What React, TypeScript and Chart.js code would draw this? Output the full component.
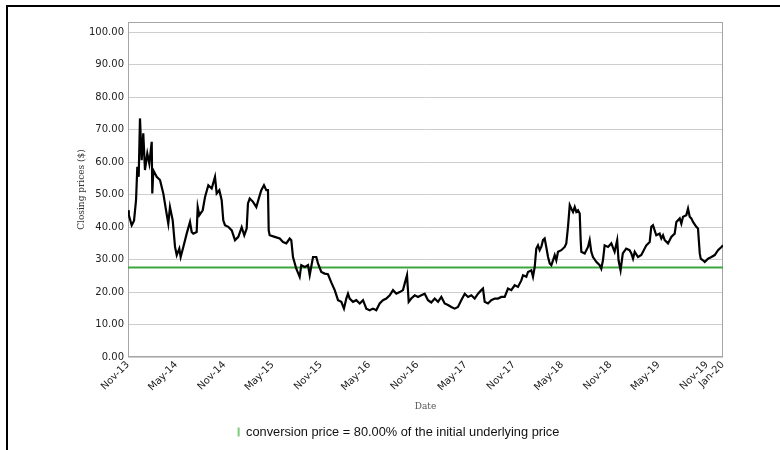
import React, { useEffect, useRef } from 'react';
import { Chart, registerables } from 'chart.js';

Chart.register(...registerables);

// x values: months elapsed since 1 Nov 2013
const closeMonths = [
  0.0, 0.1, 0.46, 0.75, 1.0, 1.16, 1.33, 1.49, 1.7, 1.9, 2.11, 2.4, 2.65, 2.95, 3.02, 3.15, 3.57, 3.98, 4.39, 4.73,
  5.01, 5.22, 5.56, 5.85, 6.06, 6.38, 6.55, 6.88, 7.3, 7.71, 7.92, 8.12, 8.54, 8.67, 8.87, 9.29, 9.58, 9.99, 10.41, 10.82,
  11.03, 11.36, 11.65, 11.85, 12.06, 12.47, 12.9, 13.31, 13.72, 14.14, 14.46, 14.76, 14.92, 15.14, 15.55, 15.96, 16.38, 16.58, 16.91, 17.2,
  17.41, 17.5, 17.62, 18.25, 18.87, 19.28, 19.69, 20.11, 20.31, 20.52, 20.93, 21.35, 21.55, 21.98, 22.39, 22.6, 23.01, 23.42, 23.63, 24.04,
  24.46, 24.87, 25.28, 25.71, 26.12, 26.53, 26.86, 27.15, 27.36, 27.57, 27.98, 28.39, 28.82, 29.23, 29.64, 30.06, 30.47, 30.88, 31.3, 31.71,
  32.13, 32.55, 32.96, 33.37, 33.79, 34.2, 34.41, 34.7, 34.91, 35.23, 35.66, 36.07, 36.48, 36.9, 37.31, 37.72, 38.14, 38.56, 38.97, 39.39,
  39.8, 40.21, 40.63, 41.04, 41.45, 41.88, 42.29, 42.7, 43.12, 43.53, 43.94, 44.15, 44.36, 44.77, 45.18, 45.61, 46.02, 46.43, 46.85, 47.26,
  47.67, 48.09, 48.5, 48.92, 49.13, 49.54, 49.75, 50.16, 50.37, 50.58, 50.78, 50.99, 51.2, 51.4, 51.61, 51.82, 52.02, 52.24, 52.45, 52.65,
  52.86, 53.07, 53.27, 53.48, 53.89, 54.31, 54.51, 54.72, 54.94, 55.14, 55.35, 55.56, 55.76, 55.97, 56.18, 56.3, 56.38, 56.8, 57.21, 57.42,
  57.62, 57.83, 58.24, 58.66, 58.86, 59.07, 59.28, 59.7, 60.11, 60.52, 60.84, 61.01, 61.26, 61.54, 61.96, 62.38, 62.6, 62.81, 63.02, 63.43,
  63.84, 64.05, 64.46, 64.88, 65.08, 65.29, 65.5, 65.7, 66.12, 66.33, 66.54, 66.75, 67.16, 67.57, 67.99, 68.2, 68.62, 68.82, 69.03, 69.44,
  69.65, 69.86, 70.06, 70.27, 70.68, 70.89, 71.11, 71.23, 71.51, 71.73, 72.14, 72.56, 72.97, 73.38, 73.8, 74.0,
];

const closePrices = [
  45.2, 43.7, 40.6, 42.0, 48.3, 58.6, 55.5, 73.5, 60.6, 68.9, 57.6, 62.7, 59.6, 66.3, 50.4, 57.5, 55.5, 54.5, 50.4, 45.2,
  41.1, 46.2, 42.1, 33.9, 31.4, 33.4, 30.8, 33.9, 38.0, 41.6, 38.5, 38.0, 38.5, 46.2, 43.7, 45.2, 49.3, 52.9, 51.9, 55.5,
  50.4, 51.4, 48.3, 42.1, 40.6, 40.1, 39.0, 36.0, 37.0, 40.0, 37.5, 39.6, 47.3, 48.8, 47.8, 46.2, 49.8, 51.4, 52.9, 51.4,
  51.4, 39.0, 37.5, 37.0, 36.5, 35.4, 35.0, 36.5, 36.0, 30.8, 27.2, 24.7, 28.3, 27.7, 28.3, 25.2, 30.8, 30.8, 28.8, 26.2,
  25.7, 25.5, 23.0, 20.6, 17.5, 17.0, 14.9, 18.0, 19.5, 18.0, 17.0, 17.5, 16.5, 17.5, 14.9, 14.4, 14.9, 14.4, 16.5, 17.5,
  18.0, 19.0, 20.6, 19.5, 20.0, 20.6, 22.6, 25.2, 17.0, 18.0, 19.0, 18.5, 19.0, 19.5, 17.5, 16.8, 18.0, 17.0, 18.5, 16.5,
  16.0, 15.4, 14.9, 15.4, 17.5, 19.5, 18.5, 19.0, 18.0, 19.5, 20.6, 21.1, 17.0, 16.5, 17.5, 18.0, 18.0, 18.5, 18.5, 21.1,
  20.6, 22.1, 21.6, 23.6, 25.2, 24.7, 26.2, 26.7, 24.7, 27.7, 33.4, 34.4, 32.9, 33.9, 36.0, 36.5, 33.9, 30.8, 28.8, 28.3,
  29.8, 31.4, 29.8, 32.4, 32.9, 33.9, 35.0, 40.0, 46.8, 45.7, 44.7, 46.2, 44.7, 45.2, 44.2, 36.0, 32.4, 31.9, 33.9, 36.0,
  32.4, 30.8, 29.3, 28.3, 27.2, 29.8, 34.4, 33.9, 35.0, 32.4, 36.0, 29.8, 26.7, 31.9, 33.4, 32.9, 31.9, 30.3, 32.4, 30.8,
  31.4, 32.4, 34.4, 35.4, 40.1, 40.6, 39.0, 37.5, 38.0, 36.5, 37.5, 36.0, 35.0, 37.0, 38.0, 41.6, 42.7, 41.1, 43.2, 43.7,
  45.7, 43.2, 42.7, 41.6, 40.1, 39.6, 31.9, 30.3, 29.8, 29.3, 30.3, 30.8, 31.4, 32.9, 33.9, 34.4,
];

const conversionPrice = 27.6;
const conversionRange = [0, 74];

const xTickMonths = [0, 6, 12, 18, 24, 30, 36, 42, 48, 54, 60, 66, 72, 74];
const xTickLabels = [
  'Nov-13', 'May-14', 'Nov-14', 'May-15', 'Nov-15', 'May-16', 'Nov-16',
  'May-17', 'Nov-17', 'May-18', 'Nov-18', 'May-19', 'Nov-19', 'Jan-20',
];

const yMin = 0;
const yMax = 103.2;
const yStep = 10;

const seriesLabel = 'Closing price';
const conversionLabel = 'conversion price = 80.00% of the initial underlying price';
const xTitle = 'Date';
const yTitle = 'Closing prices ($)';

const framePlugin = {
  id: 'plotFrame',
  beforeDatasetsDraw(chart: any) {
    const { ctx, chartArea } = chart;
    const { left, top, right, bottom } = chartArea;
    ctx.save();
    ctx.strokeStyle = '#a6a6a6';
    ctx.lineWidth = 1;
    ctx.strokeRect(Math.round(left) + 0.5, Math.round(top) + 0.5, Math.round(right - left) - 1, Math.round(bottom - top) - 1);
    ctx.restore();
  },
};

export default function App() {
  const canvasRef = useRef<HTMLCanvasElement | null>(null);

  useEffect(() => {
    const canvas = canvasRef.current;
    if (!canvas) return;
    const chart = new Chart(canvas, {
      type: 'line',
      data: {
        datasets: [
          {
            label: seriesLabel,
            data: closeMonths.map((m, i) => ({ x: m, y: closePrices[i] })),
            borderColor: '#000000',
            borderWidth: 2.2,
            pointRadius: 0,
            tension: 0,
            fill: false,
          },
          {
            label: conversionLabel,
            data: conversionRange.map((m) => ({ x: m, y: conversionPrice })),
            borderColor: '#3fa53f',
            backgroundColor: '#7ccc7c',
            borderWidth: 2,
            pointRadius: 0,
            fill: false,
          },
        ],
      },
      options: {
        animation: false,
        responsive: false,
        devicePixelRatio: 1,
        parsing: false,
        layout: { padding: { left: 0, right: 0, top: 15, bottom: 1.6 } },
        plugins: {
          tooltip: { enabled: false },
          legend: {
            display: true,
            position: 'bottom',
            labels: {
              boxWidth: 2,
              boxHeight: 9,
              padding: 10,
              color: '#111',
              font: { family: 'Liberation Sans', size: 12.8 },
              generateLabels: () => [
                {
                  text: conversionLabel,
                  fillStyle: '#7ccc7c',
                  strokeStyle: '#7ccc7c',
                  lineWidth: 0,
                  datasetIndex: 1,
                  hidden: false,
                  fontColor: '#111',
                },
              ],
            },
          },
        },
        scales: {
          x: {
            type: 'linear',
            min: 0,
            max: 74,
            afterBuildTicks: (scale: any) => {
              scale.ticks = xTickMonths.map((v) => ({ value: v }));
            },
            afterFit: (scale: any) => {
              scale.height = 58.6;
            },
            grid: { display: false, drawTicks: false },
            border: { display: false },
            ticks: {
              autoSkip: false,
              minRotation: 45,
              maxRotation: 45,
              padding: 2,
              color: '#222',
              font: { family: 'DejaVu Sans', size: 10 },
              callback: (_v: any, i: number) => xTickLabels[i],
            },
            title: {
              display: true,
              text: xTitle,
              color: '#555',
              font: { family: 'DejaVu Serif', size: 9 },
              padding: { top: 0, bottom: 3.5 },
            },
          },
          y: {
            type: 'linear',
            min: yMin,
            max: yMax,
            afterFit: (scale: any) => {
              scale.width = 120;
            },
            grid: { display: true, drawTicks: false, color: '#cdcdcd', lineWidth: 1 },
            border: { display: false },
            ticks: {
              stepSize: yStep,
              includeBounds: false,
              padding: 4,
              color: '#222',
              font: { family: 'DejaVu Sans', size: 10 },
              callback: (v: any) => Number(v).toFixed(2),
            },
            title: {
              display: true,
              text: yTitle,
              color: '#333',
              font: { family: 'DejaVu Serif', size: 9 },
              padding: { top: 68.3, bottom: 0 },
            },
          },
          yRight: {
            type: 'linear',
            position: 'right',
            display: true,
            afterFit: (scale: any) => {
              scale.width = 66;
            },
            grid: { display: false, drawTicks: false },
            border: { display: false },
            ticks: { display: false },
          },
        },
      } as any,
      plugins: [framePlugin],
    });
    return () => chart.destroy();
  }, []);

  return (
    <div style={{ position: 'fixed', left: 0, top: 0, width: 780, height: 450, overflow: 'hidden', background: '#fff' }}>
      <div
        style={{
          position: 'absolute',
          left: 6,
          top: 5,
          width: 781,
          height: 460,
          border: '2px solid #000',
          background: '#fff',
        }}
      >
        <canvas ref={canvasRef} width={781} height={443} style={{ display: 'block', width: 781, height: 443 }} />
      </div>
    </div>
  );
}
